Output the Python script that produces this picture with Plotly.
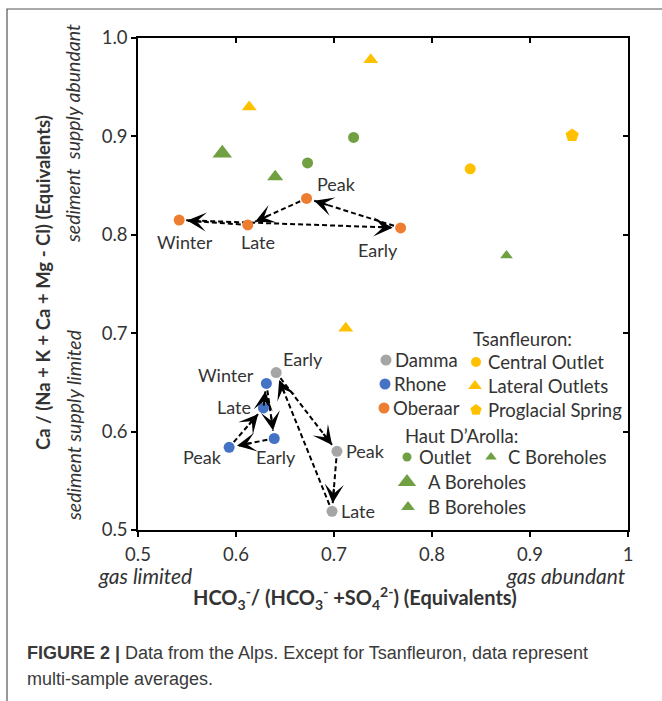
import math
import plotly.graph_objects as go

# ---------------- data ----------------
x_ticks = [0.5, 0.6, 0.7, 0.8, 0.9, 1.0]
x_tick_text = ["0.5", "0.6", "0.7", "0.8", "0.9", "1"]
y_ticks = [0.5, 0.6, 0.7, 0.8, 0.9, 1.0]
y_tick_text = ["0.5", "0.6", "0.7", "0.8", "0.9", "1.0"]

oberaar_labels = ["Winter", "Late", "Peak", "Early"]
oberaar_x = [0.542, 0.612, 0.672, 0.768]
oberaar_y = [0.815, 0.810, 0.837, 0.807]

rhone_labels = ["Winter", "Late", "Early", "Peak"]
rhone_x = [0.631, 0.628, 0.639, 0.593]
rhone_y = [0.649, 0.624, 0.593, 0.584]

damma_labels = ["Early", "Peak", "Late"]
damma_x = [0.641, 0.703, 0.698]
damma_y = [0.660, 0.580, 0.519]

tsan_central_x = [0.839]
tsan_central_y = [0.867]
tsan_lateral_x = [0.7375, 0.6135, 0.712]
tsan_lateral_y = [0.978, 0.930, 0.705]
tsan_spring_x = [0.943]
tsan_spring_y = [0.901]

arolla_outlet_x = [0.720, 0.673]
arolla_outlet_y = [0.899, 0.873]
arolla_a_x = [0.586]
arolla_a_y = [0.883]
arolla_b_x = [0.640]
arolla_b_y = [0.859]
arolla_c_x = [0.876]
arolla_c_y = [0.779]

# seasonal sequences (from label -> to label)
oberaar_arrows = [("Early", "Peak"), ("Peak", "Late"), ("Late", "Winter"), ("Winter", "Early")]
rhone_arrows = [("Winter", "Early"), ("Early", "Peak"), ("Peak", "Late"), ("Late", "Winter")]
damma_arrows = [("Early", "Peak"), ("Peak", "Late"), ("Late", "Early")]

# ---------------- style ----------------
W, H = 662, 701
ML, MR, MT, MB = 138, 34, 38, 171
PW, PH = W - ML - MR, H - MT - MB
XR, YR = [0.5, 1.0], [0.5, 1.0]
XPX = PW / (XR[1] - XR[0])
YPX = PH / (YR[1] - YR[0])

C_DAMMA = "#A5A5A5"
C_RHONE = "#4472C4"
C_OBER = "#ED7D31"
C_TSAN = "#FFC000"
C_GREEN = "#70A042"
TXT = "#333333"
FONT = "Lato"

def px_x(p):
    return (p - ML) / PW

def px_y(p):
    return (MT + PH - p) / PH

fig = go.Figure()

# dashed arrow lines
annotations = []
def add_arrows(xs, ys, labels, arrows, gap_start=7, gap_end=8, head_len=16):
    idx = {l: i for i, l in enumerate(labels)}
    for a, b in arrows:
        ax_, ay_ = xs[idx[a]], ys[idx[a]]
        bx, by = xs[idx[b]], ys[idx[b]]
        dxp, dyp = (bx - ax_) * XPX, (by - ay_) * YPX
        L = math.hypot(dxp, dyp)
        ux, uy = dxp / L, dyp / L
        sx, sy = ax_ + ux * gap_start / XPX, ay_ + uy * gap_start / YPX
        tx, ty = bx - ux * gap_end / XPX, by - uy * gap_end / YPX
        fig.add_trace(go.Scatter(x=[sx, tx], y=[sy, ty], mode="lines",
                                 line=dict(color="black", width=2, dash="5px,3px"),
                                 showlegend=False, hoverinfo="skip"))
        annotations.append(dict(x=tx, y=ty, xref="x", yref="y",
                                ax=tx - ux * head_len / XPX, ay=ty - uy * head_len / YPX,
                                axref="x", ayref="y", text="", showarrow=True,
                                arrowhead=3, arrowsize=1.6, arrowwidth=2,
                                arrowcolor="black"))

add_arrows(oberaar_x, oberaar_y, oberaar_labels, oberaar_arrows)
add_arrows(rhone_x, rhone_y, rhone_labels, rhone_arrows)
add_arrows(damma_x, damma_y, damma_labels, damma_arrows)

def mk(color, symbol, size):
    return dict(color=color, symbol=symbol, size=size, line=dict(width=0))

M_CIRCLE = 11
series = [
    (tsan_lateral_x, tsan_lateral_y, mk(C_TSAN, "triangle-up", 13)),
    (tsan_central_x, tsan_central_y, mk(C_TSAN, "circle", M_CIRCLE)),
    (tsan_spring_x, tsan_spring_y, mk(C_TSAN, "pentagon", 14)),
    (arolla_outlet_x, arolla_outlet_y, mk(C_GREEN, "circle", M_CIRCLE)),
    (arolla_a_x, arolla_a_y, mk(C_GREEN, "triangle-up", 17)),
    (arolla_b_x, arolla_b_y, mk(C_GREEN, "triangle-up", 14)),
    (arolla_c_x, arolla_c_y, mk(C_GREEN, "triangle-up", 11)),
    (oberaar_x, oberaar_y, mk(C_OBER, "circle", M_CIRCLE)),
    (rhone_x, rhone_y, mk(C_RHONE, "circle", M_CIRCLE)),
    (damma_x, damma_y, mk(C_DAMMA, "circle", M_CIRCLE)),
]
for xs, ys, m in series:
    fig.add_trace(go.Scatter(x=xs, y=ys, mode="markers", marker=m,
                             showlegend=False, cliponaxis=False))

# point labels (pixel offsets: dx right, dy down)
label_offsets = {
    "oberaar": {"Winter": (6, 22), "Late": (10, 17), "Peak": (30, -14), "Early": (-23, 22)},
    "rhone": {"Winter": (-40, -8), "Late": (-29, -1), "Peak": (-27, 10), "Early": (2, 19)},
    "damma": {"Early": (27, -14), "Peak": (29, 0), "Late": (26, 0)},
}
for name, xs, ys, labels in [("oberaar", oberaar_x, oberaar_y, oberaar_labels),
                             ("rhone", rhone_x, rhone_y, rhone_labels),
                             ("damma", damma_x, damma_y, damma_labels)]:
    for xv, yv, lab in zip(xs, ys, labels):
        dx, dy = label_offsets[name][lab]
        annotations.append(dict(x=xv, y=yv, xref="x", yref="y", text=lab,
                                showarrow=False, xshift=dx, yshift=-dy,
                                xanchor="center", yanchor="middle",
                                font=dict(family=FONT, size=18, color=TXT)))

# legend (built from markers + text at pixel positions)
legend_items = [
    (386, 360, mk(C_DAMMA, "circle", 11), 393, "Damma"),
    (385, 384, mk(C_RHONE, "circle", 11), 392, "Rhone"),
    (384, 408, mk(C_OBER, "circle", 11), 391, "Oberaar"),
    (476, 362, mk(C_TSAN, "circle", 10), 486, "Central Outlet"),
    (475, 386, mk(C_TSAN, "triangle-up", 12), 486, "Lateral Outlets"),
    (476, 410, mk(C_TSAN, "pentagon", 12), 486, "Proglacial Spring"),
    (407, 457, mk(C_GREEN, "circle", 9), 417, "Outlet"),
    (491, 457, mk(C_GREEN, "triangle-up", 10), 506, "C Boreholes"),
    (407, 482, mk(C_GREEN, "triangle-up", 16), 426, "A Boreholes"),
    (408, 507, mk(C_GREEN, "triangle-up", 12), 426, "B Boreholes"),
]
for mx, my, m, tx, txt in legend_items:
    fig.add_trace(go.Scatter(x=[mx], y=[my], mode="markers", marker=m,
                             xaxis="x3", yaxis="y3", showlegend=False,
                             cliponaxis=False, hoverinfo="skip"))
    annotations.append(dict(x=px_x(tx), y=px_y(my), xref="paper", yref="paper",
                            text=txt, showarrow=False, xanchor="left", yanchor="middle",
                            font=dict(family=FONT, size=18.5, color=TXT)))
for tx, ty, txt in [(471, 339, "Tsanfleuron:"), (403, 436, "Haut D\u2019Arolla:")]:
    annotations.append(dict(x=px_x(tx), y=px_y(ty), xref="paper", yref="paper",
                            text=txt, showarrow=False, xanchor="left", yanchor="middle",
                            font=dict(family=FONT, size=18.5, color=TXT)))

# mirror-tick dummy trace
fig.add_trace(go.Scatter(x=[None], y=[None], xaxis="x2", yaxis="y2",
                         showlegend=False, hoverinfo="skip"))

def note(xp, yp, text, size, family=FONT, angle=0, xanchor="center", color=TXT):
    return dict(x=px_x(xp), y=px_y(yp), xref="paper", yref="paper", textangle=angle,
                text=text, showarrow=False, xanchor=xanchor, yanchor="middle",
                font=dict(family=family, size=size, color=color))

# axis titles & notes
annotations += [
    note(43, 283, "<b>Ca / (Na + K + Ca + Mg - Cl) (Equivalents)</b>", 18.5, angle=-90),
    note(73, 134, "<i>sediment  supply abundant</i>", 19.5, angle=-90),
    note(73, 425, "<i>sediment supply limited</i>", 19.5, angle=-90),
    note(355, 598, "<b>HCO<sub>3</sub><sup>-</sup>/ (HCO<sub>3</sub><sup>-</sup> +SO<sub>4</sub><sup>2-</sup>) (Equivalents)</b>", 20),
    note(96, 575, "<i>gas limited</i>", 21, xanchor="left"),
    note(628, 575, "<i>gas abundant</i>", 21, xanchor="right"),
    note(25, 653, "<b>FIGURE 2 |</b> Data from the Alps. Except for Tsanfleuron, data represent",
         18, family="Liberation Sans", xanchor="left", color="#3a3a3a"),
    note(25, 679, "multi-sample averages.", 18, family="Liberation Sans",
         xanchor="left", color="#3a3a3a"),
]

fig.update_layout(
    width=W, height=H, autosize=False,
    margin=dict(l=ML, r=MR, t=MT, b=MB, pad=0),
    paper_bgcolor="white", plot_bgcolor="white",
    showlegend=False,
    xaxis=dict(range=XR, tickvals=x_ticks, ticktext=x_tick_text, ticks="outside",
               ticklen=5, tickwidth=1.5, tickcolor="black", showline=True,
               linecolor="black", linewidth=1.5, mirror=True, showgrid=False,
               zeroline=False, ticklabelstandoff=2,
               tickfont=dict(family=FONT, size=18.5, color=TXT)),
    yaxis=dict(range=YR, tickvals=y_ticks, ticktext=y_tick_text, ticks="outside",
               ticklen=5, tickwidth=1.5, tickcolor="black", showline=True,
               linecolor="black", linewidth=1.5, mirror=True, showgrid=False,
               zeroline=False, tickfont=dict(family=FONT, size=18.5, color=TXT)),
    xaxis2=dict(range=XR, overlaying="x", side="top", matches="x", tickvals=x_ticks,
                ticks="inside", ticklen=5, tickwidth=1.5, tickcolor="black",
                showticklabels=False, showline=False, showgrid=False, zeroline=False),
    yaxis2=dict(range=YR, overlaying="y", side="right", matches="y", tickvals=y_ticks,
                ticks="inside", ticklen=5, tickwidth=1.5, tickcolor="black",
                showticklabels=False, showline=False, showgrid=False, zeroline=False),
    xaxis3=dict(range=[ML, ML + PW], overlaying="x", visible=False),
    yaxis3=dict(range=[MT + PH, MT], overlaying="y", visible=False),
    annotations=annotations,
    shapes=[dict(type="rect", xref="paper", yref="paper",
                 x0=px_x(7), x1=px_x(672), y0=px_y(9), y1=px_y(712),
                 line=dict(color="#555555", width=1.2), layer="below")],
)

fig.write_html("out.html")
